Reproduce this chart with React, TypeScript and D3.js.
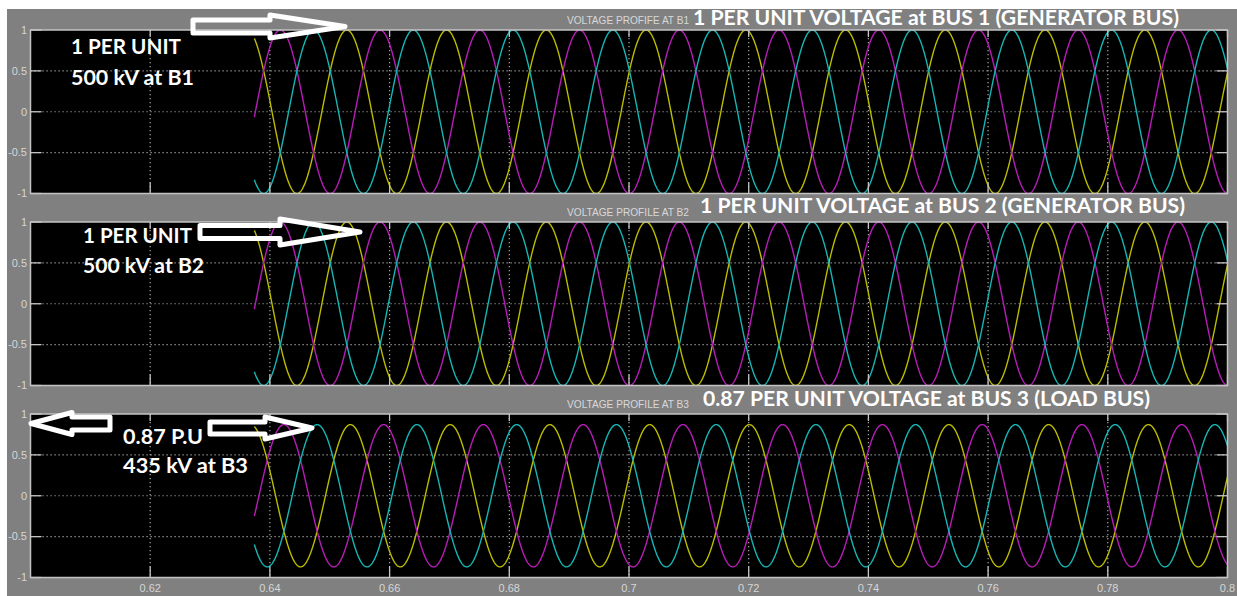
import React, { useRef, useEffect } from "react";
import * as d3 from "d3";

// scope data
const TIME_DOMAIN = [0.6, 0.8];
const X_TICKS = [0.62, 0.64, 0.66, 0.68, 0.7, 0.72, 0.74, 0.76, 0.78, 0.8];
const Y_TICKS = [1, 0.5, 0, -0.5, -1];

const FREQUENCY_HZ = 60;
const WAVE_START = 0.6374;
const WAVE_END = 0.8;
const SAMPLE_STEP = 0.00005;

// three phases: yellow, magenta, cyan
const PHASE_SHIFT_DEG = [0, -120, 120];
const PHASE_COLORS = ["#bcbc00", "#b81cb8", "#16b6b6"];

// per bus
const BUS_AMPLITUDE_PU = [1, 1, 0.87];
const BUS_ANGLE_DEG = [28.4, 28.4, 15.5];
const SCOPE_NAMES = ["VOLTAGE PROFIFE AT B1", "VOLTAGE PROFILE AT B2", "VOLTAGE PROFILE AT B3"];
const BUS_TITLES = [
  "1 PER UNIT VOLTAGE at BUS 1 (GENERATOR BUS)",
  "1 PER UNIT VOLTAGE at BUS 2 (GENERATOR BUS)",
  "0.87 PER UNIT VOLTAGE at BUS 3 (LOAD BUS)",
];
const NOTE_LINE1 = ["1 PER UNIT", "1 PER UNIT", "0.87 P.U"];
const NOTE_LINE2 = ["500 kV at B1", "500 kV at B2", "435 kV at B3"];

const W = 1237;
const H = 596;
const PANEL_TOPS = [30, 222, 414];
const PANEL_H = 163.5;
const PLOT_LEFT = 30.5;
const PLOT_RIGHT = 1227.5;

// layout of the hand drawn labels
const TITLE_POS = [
  { x: 693, y: 24.5, w: 486 },
  { x: 700, y: 213, w: 485 },
  { x: 703, y: 406, w: 447 },
];
const NOTE_POS = [
  { x: 71, y1: 54, w1: 110, y2: 85, w2: 123 },
  { x: 83, y1: 243, w1: 109, y2: 273, w2: 121 },
  { x: 123, y1: 444, w1: 80, y2: 473, w2: 125 },
];
// tail, head base, tip, centre y, shaft half height, head half height
const ARROWS = [
  [193, 270, 345, 26.5, 6.5, 11.5],
  [200, 280, 360, 232, 6.5, 13],
  [110, 72, 31, 423.5, 6.5, 11],
  [210, 265, 312, 428, 6, 11],
];

const arrowPath = ([tail, base, tip, yc, s, h]: number[]) =>
  `M${tail},${yc - s}L${base},${yc - s}L${base},${yc - h}L${tip},${yc}L${base},${yc + h}L${base},${yc + s}L${tail},${yc + s}Z`;

const AXIS_FONT = "Liberation Sans Narrow, Liberation Sans, Arial, sans-serif";
const NOTE_FONT = "Lato, 'Open Sans', sans-serif";

const App = () => {
  const svgRef = useRef<SVGSVGElement | null>(null);

  useEffect(() => {
    const svg = d3.select(svgRef.current);
    svg.selectAll("*").remove();

    svg.append("rect").attr("width", W).attr("height", H).attr("fill", "#fff");
    svg.append("rect").attr("x", 7).attr("y", 9).attr("width", W - 7).attr("height", H - 9).attr("fill", "#808080");

    const x = d3.scaleLinear().domain(TIME_DOMAIN).range([PLOT_LEFT, PLOT_RIGHT]);
    const times = d3.range(WAVE_START, WAVE_END + SAMPLE_STEP / 2, SAMPLE_STEP);
    const omega = 2 * Math.PI * FREQUENCY_HZ;

    PANEL_TOPS.forEach((top, i) => {
      const y = d3.scaleLinear().domain([-1, 1]).range([top + PANEL_H, top]);
      const g = svg.append("g");

      g.append("clipPath")
        .attr("id", `clip${i}`)
        .append("rect")
        .attr("x", PLOT_LEFT)
        .attr("y", top)
        .attr("width", PLOT_RIGHT - PLOT_LEFT)
        .attr("height", PANEL_H);

      g.append("rect")
        .attr("x", PLOT_LEFT)
        .attr("y", top)
        .attr("width", PLOT_RIGHT - PLOT_LEFT)
        .attr("height", PANEL_H)
        .attr("fill", "#000");

      // dotted grid
      g.selectAll(".hgrid")
        .data(Y_TICKS.slice(1, -1))
        .enter()
        .append("line")
        .attr("x1", PLOT_LEFT)
        .attr("x2", PLOT_RIGHT)
        .attr("y1", (d) => y(d))
        .attr("y2", (d) => y(d))
        .attr("stroke", "#a8a8a8")
        .attr("stroke-width", 1.2)
        .attr("stroke-dasharray", "1.2,2.8");
      g.selectAll(".vgrid")
        .data(X_TICKS.slice(0, -1))
        .enter()
        .append("line")
        .attr("x1", (d) => x(d))
        .attr("x2", (d) => x(d))
        .attr("y1", top)
        .attr("y2", top + PANEL_H)
        .attr("stroke", "#a8a8a8")
        .attr("stroke-width", 1.2)
        .attr("stroke-dasharray", "1.2,2.8");

      // phase voltages
      const path = d3
        .line<number[]>()
        .x((d) => x(d[0]))
        .y((d) => y(d[1]));
      PHASE_SHIFT_DEG.forEach((shift, p) => {
        const phi = ((BUS_ANGLE_DEG[i] + shift) * Math.PI) / 180;
        const pts = times.map((t) => [t, BUS_AMPLITUDE_PU[i] * Math.sin(omega * t + phi)]);
        g.append("path")
          .attr("d", path(pts))
          .attr("fill", "none")
          .attr("stroke", PHASE_COLORS[p])
          .attr("stroke-width", 1.4)
          .attr("clip-path", `url(#clip${i})`);
      });

      // frame and ticks
      g.append("rect")
        .attr("x", PLOT_LEFT)
        .attr("y", top)
        .attr("width", PLOT_RIGHT - PLOT_LEFT)
        .attr("height", PANEL_H)
        .attr("fill", "none")
        .attr("stroke", "#c4c4c4")
        .attr("stroke-width", 1.5);

      const tickLen = 11;
      Y_TICKS.forEach((v) => {
        g.append("line")
          .attr("x1", PLOT_LEFT).attr("x2", PLOT_LEFT + tickLen)
          .attr("y1", y(v)).attr("y2", y(v))
          .attr("stroke", "#c4c4c4").attr("stroke-width", 1.3);
        g.append("line")
          .attr("x1", PLOT_RIGHT - tickLen).attr("x2", PLOT_RIGHT)
          .attr("y1", y(v)).attr("y2", y(v))
          .attr("stroke", "#c4c4c4").attr("stroke-width", 1.3);
        g.append("text")
          .attr("x", 27)
          .attr("y", y(v))
          .attr("dy", "0.35em")
          .attr("text-anchor", "end")
          .attr("font-family", AXIS_FONT)
          .attr("font-size", 11)
          .attr("fill", "#d6d6d6")
          .text(String(v));
      });
      X_TICKS.forEach((v) => {
        g.append("line")
          .attr("x1", x(v)).attr("x2", x(v))
          .attr("y1", top).attr("y2", top + 7)
          .attr("stroke", "#c4c4c4").attr("stroke-width", 1.3);
        g.append("line")
          .attr("x1", x(v)).attr("x2", x(v))
          .attr("y1", top + PANEL_H - tickLen).attr("y2", top + PANEL_H)
          .attr("stroke", "#c4c4c4").attr("stroke-width", 1.3);
      });
      if (i === PANEL_TOPS.length - 1) {
        g.selectAll(".xlab")
          .data(X_TICKS)
          .enter()
          .append("text")
          .attr("x", (d) => x(d))
          .attr("y", top + PANEL_H + 14)
          .attr("text-anchor", "middle")
          .attr("font-family", AXIS_FONT)
          .attr("font-size", 11)
          .attr("fill", "#d6d6d6")
          .text((d) => String(d));
      }

      // titles
      g.append("text")
        .attr("x", 567)
        .attr("y", top - 6)
        .attr("font-family", AXIS_FONT)
        .attr("font-size", 10.5)
        .attr("fill", "#d8d8d8")
        .attr("textLength", 122)
        .attr("lengthAdjust", "spacingAndGlyphs")
        .text(SCOPE_NAMES[i]);
      g.append("text")
        .attr("x", TITLE_POS[i].x)
        .attr("y", TITLE_POS[i].y)
        .attr("font-family", NOTE_FONT)
        .attr("font-weight", "bold")
        .attr("font-size", 20.5)
        .attr("fill", "#fff")
        .attr("textLength", TITLE_POS[i].w)
        .attr("lengthAdjust", "spacingAndGlyphs")
        .text(BUS_TITLES[i]);
    });

    // hand drawn notes
    ARROWS.forEach((a) => {
      svg.append("path")
        .attr("d", arrowPath(a))
        .attr("fill", "none")
        .attr("stroke", "#fff")
        .attr("stroke-width", 5)
        .attr("stroke-linejoin", "round");
    });
    NOTE_POS.forEach((n, i) => {
      [
        [NOTE_LINE1[i], n.y1, n.w1],
        [NOTE_LINE2[i], n.y2, n.w2],
      ].forEach(([txt, yy, ww]) => {
        svg.append("text")
          .attr("x", n.x)
          .attr("y", yy as number)
          .attr("font-family", NOTE_FONT)
          .attr("font-weight", "bold")
          .attr("font-size", 20.5)
          .attr("fill", "#fff")
          .attr("textLength", ww as number)
          .attr("lengthAdjust", "spacingAndGlyphs")
          .text(txt as string);
      });
    });
  }, []);

  return (
    <svg
      ref={svgRef}
      width={W}
      height={H}
      style={{ position: "absolute", left: 0, top: 0, display: "block" }}
    ></svg>
  );
};

export default App;
